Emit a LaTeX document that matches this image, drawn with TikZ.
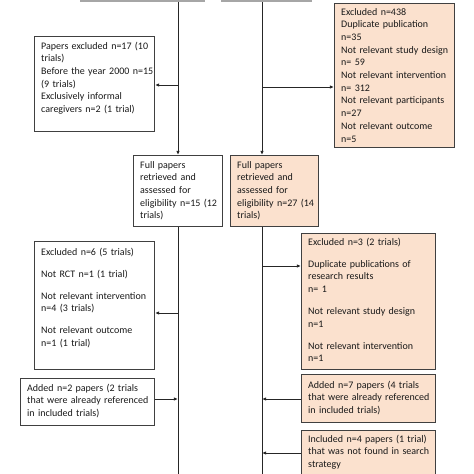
\documentclass[tikz,border=0pt]{standalone}
\usepackage{fontspec}
\setmainfont{Carlito}
\usetikzlibrary{arrows.meta}
\definecolor{peach}{RGB}{251,225,206}
\definecolor{edgecol}{RGB}{64,64,64}
\definecolor{topgray}{RGB}{166,166,166}
\begin{document}
\begin{tikzpicture}[x=1pt,y=-1pt,
  box/.style={draw=edgecol, line width=1pt, rectangle, inner sep=0pt, anchor=north west},
  pbox/.style={box, fill=peach},
  topbox/.style={draw=topgray, line width=2pt, rectangle, inner sep=0pt, anchor=south west, minimum height=30pt},
  txt/.style={anchor=base west, inner sep=0pt, align=left, text width=130pt,
    font=\fontsize{10}{12.7}\selectfont, text=black!90},
  flow/.style={draw=black!85, line width=0.85pt},
  arr/.style={flow, -{Latex[length=4.2pt,width=3.6pt]}}]
\useasboundingbox (0,0) rectangle (474,474);
% top boxes (cut off)
\node[topbox, minimum width=123pt] (topL) at (80,2) {};
\node[topbox, minimum width=89pt] (topR) at (221,2) {};
% boxes
\node[box, minimum width=120pt, minimum height=95pt] (excl1L) at (34,36) {};
\node[pbox, minimum width=120pt, minimum height=144pt] (excl1R) at (334,3) {};
\node[box, minimum width=89pt, minimum height=71pt] (fullL) at (133,155) {};
\node[pbox, minimum width=88pt, minimum height=71pt] (fullR) at (230,155) {};
\node[box, minimum width=120pt, minimum height=128pt] (excl2L) at (34,241) {};
\node[pbox, minimum width=134pt, minimum height=136pt] (excl2R) at (301,233) {};
\node[box, minimum width=134pt, minimum height=47pt] (addL) at (20,378) {};
\node[pbox, minimum width=134pt, minimum height=48pt] (addR) at (301,374) {};
\node[pbox, minimum width=134pt, minimum height=47pt] (inclR) at (301,430) {};
% texts
\node[txt] (t1) at (41,49) {Papers excluded n=17 (10\\trials)\\Before the year 2000 n=15\\(9 trials)\\Exclusively informal\\caregivers n=2 (1 trial)};
\node[txt] (t2) at (341,15) {Excluded n=438\\Duplicate publication\\n=35\\Not relevant study design\\n= 59\\Not relevant intervention\\n= 312\\Not relevant participants\\n=27\\Not relevant outcome\\n=5};
\node[txt] (t3) at (140,168) {Full papers\\retrieved and\\assessed for\\eligibility n=15 (12\\trials)};
\node[txt] (t4) at (237,168) {Full papers\\retrieved and\\assessed for\\eligibility n=27 (14\\trials)};
\node[txt] (t5) at (41,255) {Excluded n=6 (5 trials)\\[9.3pt]Not RCT n=1 (1 trial)\\[9.3pt]Not relevant intervention\\n=4 (3 trials)\\[9.3pt]Not relevant outcome\\n=1 (1 trial)};
\node[txt] (t6) at (308,245) {Excluded n=3 (2 trials)\\[9.3pt]Duplicate publications of\\research results\\n= 1\\[9.3pt]Not relevant study design\\n=1\\[9.3pt]Not relevant intervention\\n=1};
\node[txt] (t7) at (27,391) {Added n=2 papers (2 trials\\that were already referenced\\in included trials)};
\node[txt] (t8) at (308,388) {Added n=7 papers (4 trials\\that were already referenced\\in included trials)};
\node[txt] (t9) at (308,442) {Included n=4 papers (1 trial)\\that was not found in search\\strategy};
% spine coordinates
\coordinate (lx) at (178,0);
\coordinate (rx) at (262,0);
\coordinate (lend) at (178,480);
\coordinate (rend) at (262,480);
\coordinate (b1) at (0,85);
\coordinate (b2) at (0,87);
\coordinate (b3) at (0,313);
\coordinate (b4) at (0,399);
\coordinate (b5) at (0,266);
\coordinate (b6) at (0,399);
\coordinate (b7) at (0,453);
% spines
\draw[arr] (lx |- topL.south) -- (lx |- fullL.north);
\draw[arr] (rx |- topR.south) -- (rx |- fullR.north);
\draw[flow] (lx |- fullL.south) -- (lend);
\draw[flow] (rx |- fullR.south) -- (rend);
% branches
\draw[arr] (lx |- b1) -- (excl1L.east |- b1);
\draw[arr] (rx |- b2) -- (excl1R.west |- b2);
\draw[arr] (lx |- b3) -- (excl2L.east |- b3);
\draw[arr] (addL.east |- b4) -- (lx |- b4);
\draw[arr] (rx |- b5) -- (excl2R.west |- b5);
\draw[arr] (addR.west |- b6) -- (rx |- b6);
\draw[arr] (inclR.west |- b7) -- (rx |- b7);
\end{tikzpicture}
\end{document}
